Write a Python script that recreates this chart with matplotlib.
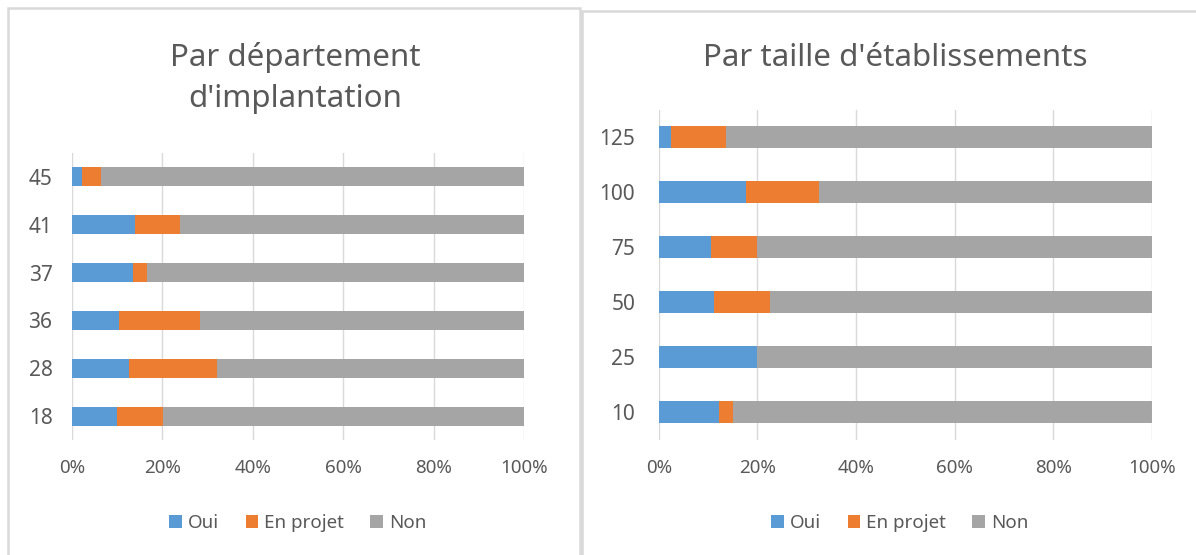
import matplotlib.pyplot as plt
from matplotlib.patches import Rectangle
from matplotlib.ticker import PercentFormatter

plt.rcParams['font.family'] = ['Noto Sans', 'DejaVu Sans']

# Par département d'implantation
dept_labels = ['18', '28', '36', '37', '41', '45']
dept_oui = [10.0, 12.5, 10.5, 13.4, 13.9, 2.3]
dept_projet = [10.1, 19.5, 17.8, 3.3, 10.1, 4.2]

# Par taille d'établissements
size_labels = ['10', '25', '50', '75', '100', '125']
size_oui = [12.3, 20.0, 11.3, 10.6, 17.6, 2.5]
size_projet = [2.8, 0.0, 11.3, 9.4, 14.9, 11.2]

C_OUI = '#5B9BD5'
C_PROJ = '#ED7D31'
C_NON = '#A5A5A5'
TXT = '#595959'


def draw(ax, labels, oui, projet, bar_h, ypad):
    non = [100 - a - b for a, b in zip(oui, projet)]
    y = range(len(labels))
    left2 = [a + b for a, b in zip(oui, projet)]
    ax.barh(y, oui, height=bar_h, color=C_OUI, label='Oui', zorder=3)
    ax.barh(y, projet, left=oui, height=bar_h, color=C_PROJ, label='En projet', zorder=3)
    ax.barh(y, non, left=left2, height=bar_h, color=C_NON, label='Non', zorder=3)
    ax.set_xlim(0, 100)
    ax.set_ylim(-0.5, len(labels) - 0.5)
    ax.set_xticks([0, 20, 40, 60, 80, 100])
    ax.xaxis.set_major_formatter(PercentFormatter(decimals=0))
    ax.set_yticks(list(y))
    ax.set_yticklabels(labels)
    ax.grid(axis='x', color='#D9D9D9', linewidth=1, zorder=0)
    for s in ax.spines.values():
        s.set_visible(False)
    ax.tick_params(length=0, labelcolor=TXT)
    ax.tick_params(axis='x', pad=14, labelsize=13.5)
    ax.tick_params(axis='y', pad=ypad, labelsize=15)


fig = plt.figure(figsize=(11.96, 5.55), dpi=100)

# panel frames
fig.patches.append(Rectangle((8 / 1196, -0.05), 572 / 1196, 1.05 - 8 / 555,
                             transform=fig.transFigure, fill=False,
                             edgecolor='#D9D9D9', linewidth=1.8))
fig.patches.append(Rectangle((582 / 1196, -0.05), 0.6, 1.05 - 11 / 555,
                             transform=fig.transFigure, fill=False,
                             edgecolor='#D9D9D9', linewidth=1.8))

ax1 = fig.add_axes([72 / 1196, 1 - 440 / 555, 452 / 1196, 287 / 555])
draw(ax1, dept_labels, dept_oui, dept_projet, 0.4, 14)
fig.text(295 / 1196, 1 - 78 / 555, "Par département\nd'implantation", ha='center',
         va='center', fontsize=22.5, color=TXT, linespacing=1.45)

ax2 = fig.add_axes([658.7 / 1196, 1 - 439.5 / 555, 493.3 / 1196, 330 / 555])
draw(ax2, size_labels, size_oui, size_projet, 0.39, 17)
fig.text(895 / 1196, 1 - 58 / 555, "Par taille d'établissements", ha='center',
         va='center', fontsize=22.5, color=TXT)

for ax, cx in ((ax1, 298), (ax2, 900)):
    h, l = ax.get_legend_handles_labels()
    fig.legend(h, l, loc='center', bbox_to_anchor=(cx / 1196, 1 - 523 / 555),
               ncol=3, frameon=False, fontsize=13.5, labelcolor=TXT,
               handlelength=0.65, handleheight=0.65, handletextpad=0.35,
               columnspacing=1.4)

fig.savefig('out.png', dpi=100, facecolor='white')
